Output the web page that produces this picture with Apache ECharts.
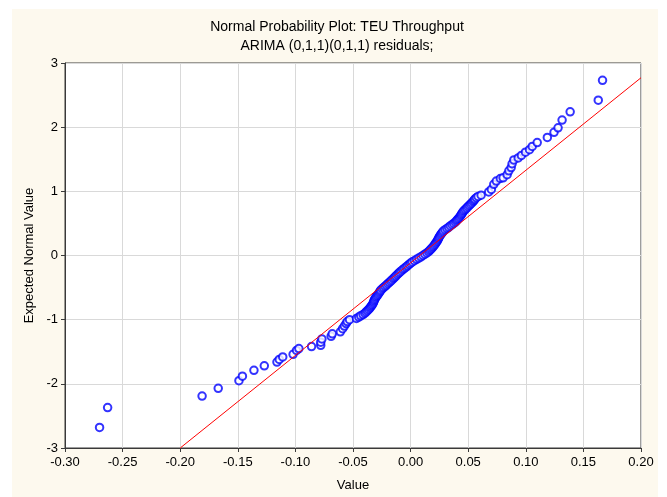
<!DOCTYPE html>
<html>
<head>
<meta charset="utf-8">
<script src="https://cdn.jsdelivr.net/npm/echarts@6/dist/echarts.min.js"></script>
<style>
  html, body { margin: 0; padding: 0; background: #fff; }
  #chart { width: 667px; height: 497px; }
</style>
</head>
<body>
<div id="chart"></div>
<script>
// residual values (x)
const residualValues = [
  // lower tail
  -0.270, -0.263, -0.181, -0.167, -0.149, -0.146, -0.136, -0.127, -0.116, -0.114,
  -0.111, -0.102, -0.099, -0.097, -0.086, -0.078, -0.078, -0.077, -0.069, -0.068,
  -0.061, -0.059, -0.0575, -0.056, -0.055, -0.053, -0.047, -0.045,
  // dense middle band
  -0.0433, -0.0413, -0.0397, -0.0386, -0.0375, -0.0364, -0.0354, -0.0346, -0.0338, -0.0330,
  -0.0324, -0.0320, -0.0316, -0.0311, -0.0304, -0.0296, -0.0287, -0.0280, -0.0272, -0.0265,
  -0.0259, -0.0247, -0.0235, -0.0222, -0.0210, -0.0197, -0.0185, -0.0173, -0.0162, -0.0150,
  -0.0139, -0.0128, -0.0117, -0.0105, -0.0094, -0.0081, -0.0068, -0.0054, -0.0040, -0.0027,
  -0.0013, 0.0000, 0.0014, 0.0033, 0.0052, 0.0071, 0.0090, 0.0107, 0.0124, 0.0141,
  0.0156, 0.0166, 0.0177, 0.0187, 0.0197, 0.0206, 0.0214, 0.0221, 0.0229, 0.0235,
  0.0241, 0.0246, 0.0252, 0.0260, 0.0268, 0.0276, 0.0284, 0.0299, 0.0315, 0.0330,
  0.0345, 0.0360, 0.0374, 0.0388, 0.0398, 0.0407, 0.0417, 0.0426, 0.0435, 0.0441,
  0.0448, 0.0455, 0.0464, 0.0475, 0.0487, 0.0498, 0.0509, 0.0520, 0.0531, 0.0542,
  0.0551, 0.0558, 0.0571, 0.0586, 0.0612,
  // upper tail
  0.0678, 0.0701, 0.0722, 0.0744, 0.0779, 0.0803, 0.0838, 0.0853, 0.0873, 0.0881,
  0.0896, 0.0934, 0.0962, 0.0997, 0.1032, 0.1056, 0.1099, 0.1187, 0.1245, 0.1280,
  0.1315, 0.1385, 0.1629, 0.1666
]

// expected normal values (y), same order
const expectedValues = [
  -2.68, -2.37, -2.19, -2.07, -1.95, -1.88, -1.79, -1.72, -1.66, -1.62,
  -1.58, -1.54, -1.48, -1.45, -1.42, -1.40, -1.35, -1.30, -1.26, -1.22,
  -1.19, -1.14, -1.10, -1.06, -1.03, -1.00, -0.98, -0.96,
  -0.94, -0.92, -0.90, -0.88, -0.86, -0.84, -0.82, -0.80, -0.78, -0.76,
  -0.74, -0.72, -0.70, -0.68, -0.66, -0.64, -0.62, -0.60, -0.58, -0.56,
  -0.54, -0.52, -0.50, -0.48, -0.46, -0.44, -0.42, -0.40, -0.38, -0.36,
  -0.34, -0.32, -0.30, -0.28, -0.26, -0.24, -0.22, -0.20, -0.18, -0.16,
  -0.14, -0.12, -0.10, -0.08, -0.06, -0.04, -0.02, 0.00, 0.02, 0.04,
  0.06, 0.08, 0.10, 0.12, 0.14, 0.16, 0.18, 0.20, 0.22, 0.24,
  0.26, 0.28, 0.30, 0.32, 0.34, 0.36, 0.38, 0.40, 0.42, 0.44,
  0.46, 0.48, 0.50, 0.52, 0.54, 0.56, 0.58, 0.60, 0.62, 0.64,
  0.66, 0.68, 0.70, 0.72, 0.74, 0.76, 0.78, 0.80, 0.82, 0.84,
  0.86, 0.88, 0.90, 0.92, 0.94,
  0.99, 1.03, 1.11, 1.16, 1.20, 1.21, 1.26, 1.32, 1.37, 1.43,
  1.49, 1.52, 1.56, 1.61, 1.65, 1.70, 1.76, 1.84, 1.92, 1.99,
  2.11, 2.24, 2.42, 2.73
]

// red reference line end points
const refLineX = [-0.20, 0.20]
const refLineY = [-3.00, 2.77]

const titleLines = ['Normal Probability Plot: TEU Throughput', 'ARIMA (0,1,1)(0,1,1) residuals;']

const points = residualValues.map((v, i) => [v, expectedValues[i]])
const linePoints = refLineX.map((v, i) => [v, refLineY[i]])

const chart = echarts.init(document.getElementById('chart'))
const font = 'Liberation Sans, Arial, sans-serif'

const option = {
  backgroundColor: '#fff',
  animation: false,
  graphic: [
    {
      type: 'rect',
      z: -100,
      shape: { x: 12, y: 9, width: 646, height: 488 },
      style: { fill: '#FDF9EE' }
    },
    {
      type: 'text',
      x: 337, y: 27,
      style: { text: titleLines[0], align: 'center', verticalAlign: 'middle', font: '14px ' + font, fill: '#000' }
    },
    {
      type: 'text',
      x: 337, y: 46,
      style: { text: titleLines[1], align: 'center', verticalAlign: 'middle', font: '14px ' + font, fill: '#000' }
    }
  ],
  grid: {
    left: 65,
    right: 26,
    top: 63,
    bottom: 47,
    show: true,
    backgroundColor: '#fff',
    borderColor: '#3a3a3a',
    borderWidth: 1
  },
  xAxis: {
    type: 'value',
    min: -0.3,
    max: 0.2,
    interval: 0.05,
    name: 'Value',
    nameLocation: 'middle',
    nameGap: 31,
    nameTextStyle: { fontFamily: font, fontSize: 13, color: '#000' },
    axisLine: { show: true, onZero: false, lineStyle: { color: '#3a3a3a' } },
    axisTick: { show: true, length: 4, lineStyle: { color: '#3a3a3a' } },
    axisLabel: {
      fontFamily: font, fontSize: 13, color: '#000', margin: 8,
      formatter: v => v.toFixed(2)
    },
    splitLine: { show: true, lineStyle: { color: '#d9d9d9' } }
  },
  yAxis: {
    type: 'value',
    min: -3,
    max: 3,
    interval: 1,
    name: 'Expected Normal Value',
    nameLocation: 'middle',
    nameGap: 23,
    nameTextStyle: { fontFamily: font, fontSize: 13, color: '#000' },
    axisLine: { show: true, onZero: false, lineStyle: { color: '#3a3a3a' } },
    axisTick: { show: true, length: 4, lineStyle: { color: '#3a3a3a' } },
    axisLabel: { fontFamily: font, fontSize: 13, color: '#000', margin: 7 },
    splitLine: { show: true, lineStyle: { color: '#d9d9d9' } }
  },
  series: [
    {
      type: 'line',
      data: linePoints,
      showSymbol: false,
      lineStyle: { color: '#ff0000', width: 1 },
      clip: true,
      z: 3
    },
    {
      type: 'scatter',
      data: points,
      symbol: 'emptyCircle',
      symbolSize: 7.5,
      itemStyle: { color: '#0000ff', borderColor: '#0000ff', borderWidth: 2 },
      z: 2
    }
  ]
}

chart.setOption(option)
</script>
</body>
</html>
